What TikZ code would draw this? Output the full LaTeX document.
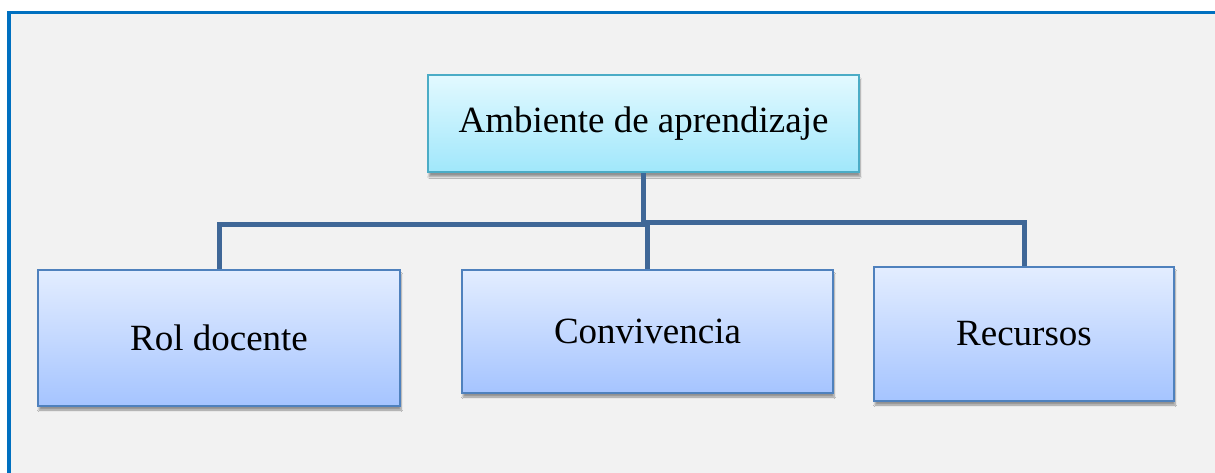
\documentclass[tikz,border=0pt]{standalone}
\usepackage{fontspec}
\setmainfont{Liberation Serif}
\usepackage{tikz}
\usetikzlibrary{positioning, calc, shadows, shadows.blur}
\usepackage{xcolor}

\definecolor{framecol}{HTML}{0070C0}
\definecolor{bggray}{HTML}{F2F2F2}
\definecolor{linkcol}{HTML}{3F6797}
\definecolor{topedge}{HTML}{4BACC6}
\definecolor{toptop}{HTML}{E2F9FF}
\definecolor{topbot}{HTML}{A0E7FB}
\definecolor{subedge}{HTML}{4F81BD}
\definecolor{subtop}{HTML}{E3EDFF}
\definecolor{subbot}{HTML}{A5C4FF}

\tikzset{
  boxtext/.style={font=\fontsize{37}{42}\selectfont, text=black, inner sep=0pt},
  rootbox/.style={boxtext, draw=topedge, line width=2pt, top color=toptop, bottom color=topbot,
    blur shadow={shadow xshift=1pt, shadow yshift=-4pt, shadow blur steps=6, shadow opacity=40}},
  childbox/.style={boxtext, draw=subedge, line width=2pt, top color=subtop, bottom color=subbot,
    blur shadow={shadow xshift=1pt, shadow yshift=-4pt, shadow blur steps=6, shadow opacity=40}},
  link/.style={draw=linkcol, line width=5pt}
}

\begin{document}
\begin{tikzpicture}[x=1pt, y=-1pt]
      \useasboundingbox (0, 0) rectangle (1215, 473);
      \fill[white] (0, 0) rectangle (1215, 473);
      \draw[framecol, line width=3.5pt, fill=bggray] (9, 12.5) rectangle (1240, 500);

      \node[rootbox, minimum width=431pt, minimum height=97pt] (amb) at (643.5, 124) {Ambiente de aprendizaje};

      \node[childbox, minimum width=362pt, minimum height=136pt] (rol) at (219, 338) {Rol docente};
      \node[childbox, minimum width=371pt, minimum height=123pt] (conv) at (647.5, 331.5) {Convivencia};
      \node[childbox, minimum width=300pt, minimum height=134pt] (rec) at (1024, 334) {Recursos};

      \draw[link] (amb.south) -- ++(0, 51) -| (rol.north);
      \draw[link] (amb.south) -- ++(0, 49) -| (conv.north);
      \draw[link] (amb.south) -- ++(0, 49) -| (rec.north);

    \end{tikzpicture}
\end{document}
